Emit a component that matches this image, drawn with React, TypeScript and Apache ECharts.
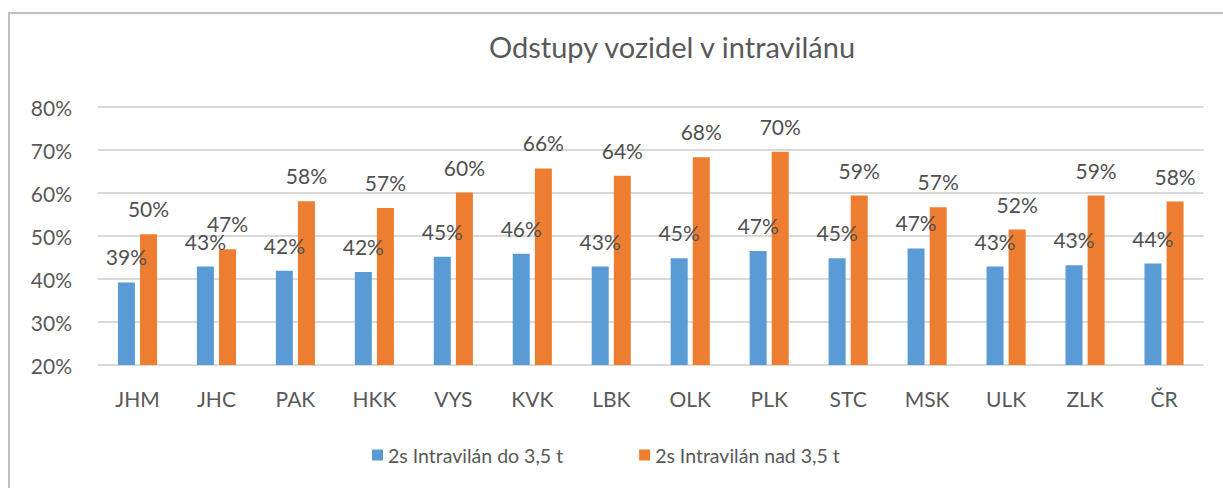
import React, { useEffect, useRef } from "react";
import * as echarts from "echarts";

const categories = ["JHM", "JHC", "PAK", "HKK", "VYS", "KVK", "LBK", "OLK", "PLK", "STC", "MSK", "ULK", "ZLK", "ČR"];
const seriesNames = ["2s Intravilán do 3,5 t", "2s Intravilán nad 3,5 t"];
const doValues = [39.2, 42.9, 41.9, 41.6, 45.2, 45.9, 42.9, 44.8, 46.5, 44.8, 47.1, 42.9, 43.2, 43.6];
const nadValues = [50.4, 46.9, 58.1, 56.5, 60.1, 65.7, 64.0, 68.3, 69.6, 59.4, 56.7, 51.5, 59.4, 58.0];
const yTicks = { min: 20, max: 80, interval: 10 };
const titleText = "Odstupy vozidel v intravilánu";

const FONT = "Lato, 'Open Sans', sans-serif";

export default function App() {
  const ref = useRef<HTMLDivElement>(null);
  useEffect(() => {
    if (!ref.current) return;
    const chart = echarts.init(ref.current, undefined, { renderer: "svg" });
    const labelCfg = {
      show: true,
      position: "top",
      distance: 15,
      color: "#505050",
      fontSize: 21,
      fontFamily: FONT,
      formatter: (p: any) => Math.round(p.value) + "%",
    };
    chart.setOption({
      animation: false,
      backgroundColor: "#ffffff",
      textStyle: { fontFamily: FONT },
      title: {
        text: titleText,
        left: 484,
        top: 27,
        textStyle: { fontSize: 29, fontWeight: "normal", color: "#595959", fontFamily: FONT },
      },
      graphic: [
        {
          type: "rect",
          shape: { x: 9, y: 13, width: 1400, height: 700 },
          style: { fill: "none", stroke: "#bfbfbf", lineWidth: 2 },
          silent: true,
        },
      ],
      legend: {
        data: seriesNames,
        left: 367,
        top: 440,
        itemWidth: 11,
        itemHeight: 11,
        itemGap: 76,
        icon: "rect",
        textStyle: { fontSize: 19.5, color: "#595959", fontFamily: FONT },
      },
      grid: { left: 98, right: 19.5, top: 107, bottom: 488 - 365 },
      xAxis: {
        type: "category",
        data: categories,
        axisLine: { show: false },
        axisTick: { show: false },
        axisLabel: { fontSize: 21, color: "#595959", margin: 23, fontFamily: FONT },
      },
      yAxis: {
        type: "value",
        min: yTicks.min,
        max: yTicks.max,
        interval: yTicks.interval,
        axisLabel: { formatter: "{value}%", fontSize: 21, color: "#595959", margin: 26, fontFamily: FONT },
        axisLine: { show: false },
        axisTick: { show: false },
        splitLine: { lineStyle: { color: "#d9d9d9", width: 2 } },
      },
      series: [
        {
          name: seriesNames[0],
          type: "bar",
          data: doValues,
          barWidth: 17,
          barGap: "30%",
          itemStyle: { color: "#5b9bd5" },
          label: labelCfg,
        },
        {
          name: seriesNames[1],
          type: "bar",
          data: nadValues,
          barWidth: 17,
          barGap: "30%",
          itemStyle: { color: "#ed7d31" },
          label: labelCfg,
        },
      ],
    });
    return () => chart.dispose();
  }, []);
  return (
    <div
      ref={ref}
      style={{ position: "fixed", left: 0, top: 0, width: 1223, height: 488 }}
    />
  );
}
